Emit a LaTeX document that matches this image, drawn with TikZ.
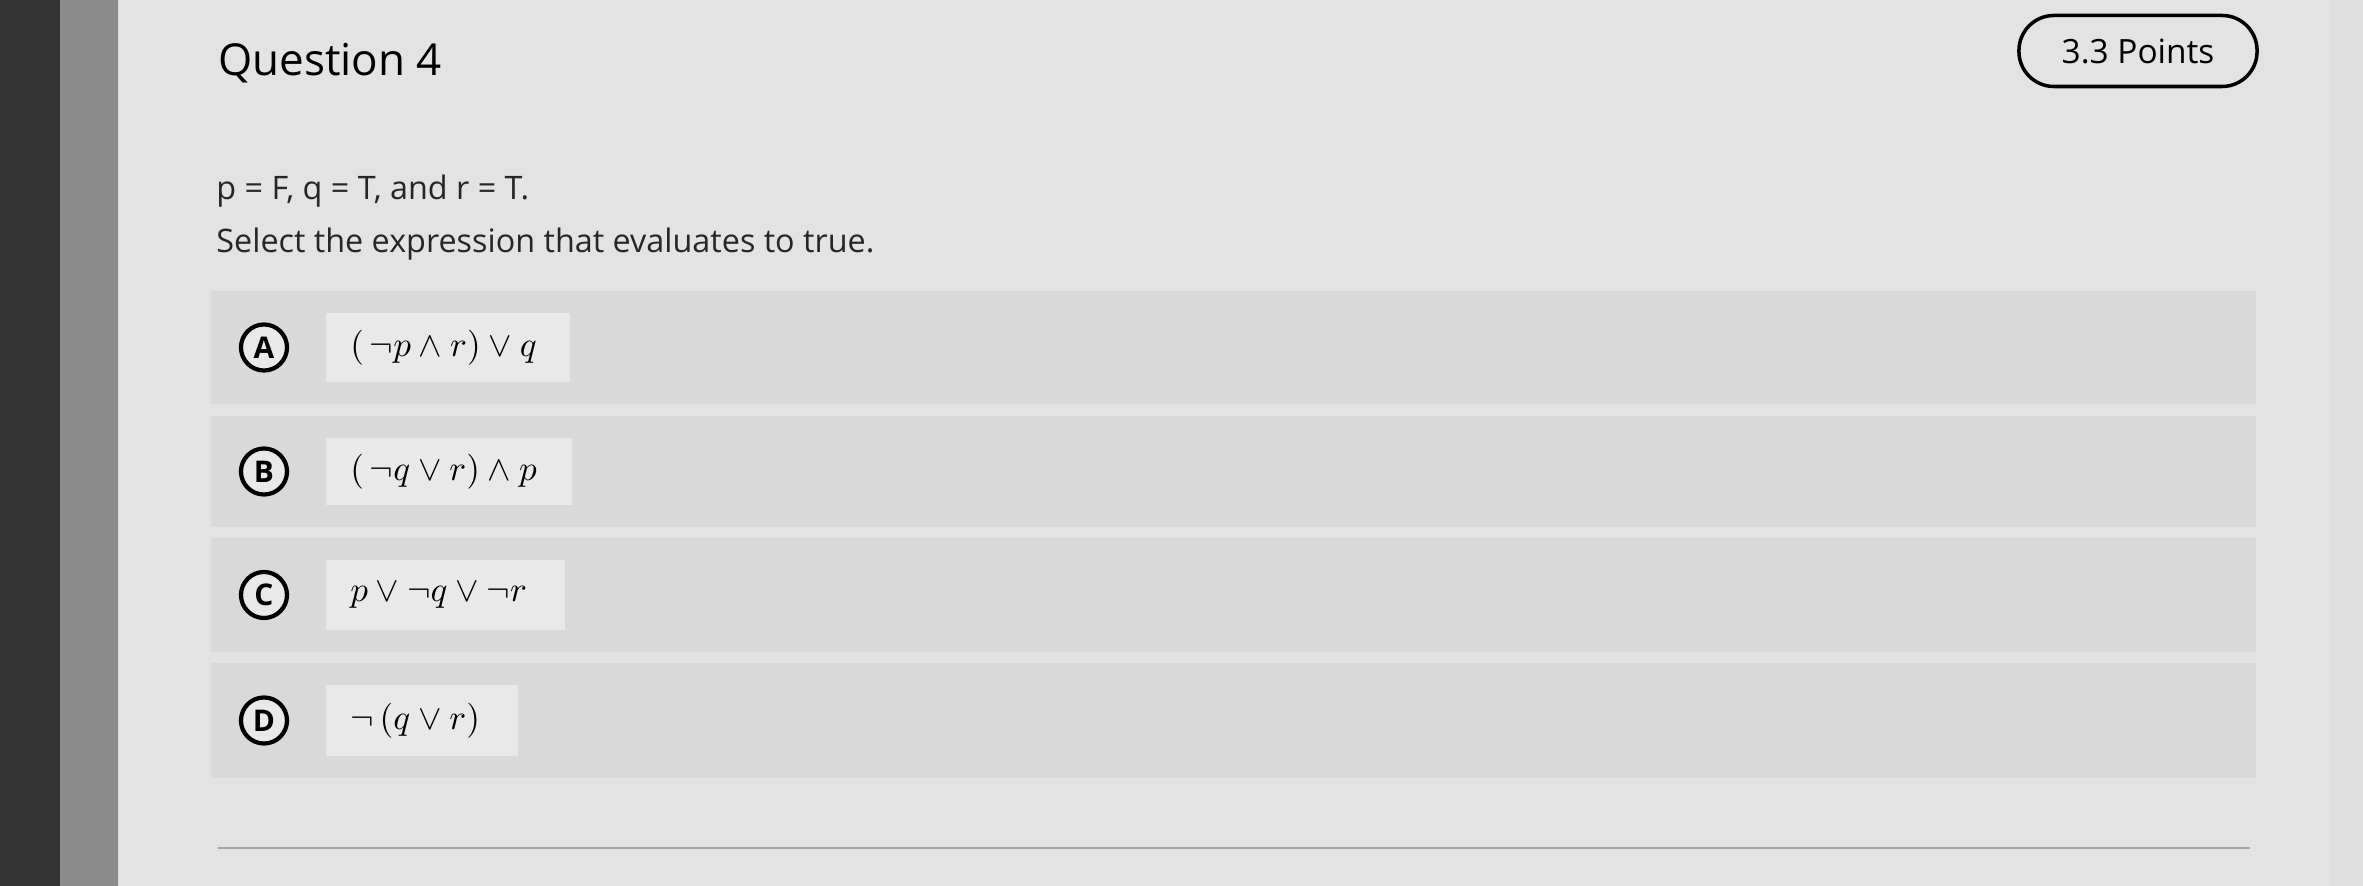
\documentclass[tikz,border=0pt]{standalone}
\usepackage{fontspec}
\setmainfont{Open Sans}
\begin{document}
\begin{tikzpicture}[x=0.01cm,y=-0.01cm,
  letter/.style={circle,draw=black,line width=1.2pt,fill=boxc,minimum size=0.46cm,inner sep=0pt,font=\fontsize{8.5}{10}\selectfont\bfseries},
  expr/.style={anchor=west,font=\fontsize{10}{12}\selectfont},
  body/.style={anchor=west,font=\fontsize{9.2}{11}\selectfont,text=black!85}]
\definecolor{bgc}{HTML}{E3E3E3}
\definecolor{rowc}{HTML}{D9D9D9}
\definecolor{boxc}{HTML}{E9E9E9}
\useasboundingbox (0,0) rectangle (2363,886);
\fill[bgc] (0,0) rectangle (2363,886);
\fill[black!80] (0,0) rectangle (60,886);
\fill[black!45] (60,0) rectangle (118,886);
\fill[black!12] (2330,0) rectangle (2363,886);
\node[anchor=west,font=\fontsize{12.5}{14}\selectfont] (title) at (206,63) {Question 4};
\node[draw=black,line width=1pt,rounded corners=0.35cm,minimum width=2.38cm,minimum height=0.71cm,font=\fontsize{9.5}{11}\selectfont] (pts) at (2138,51) {3.3 Points};
\node[body] (given) at (204,191) {p = F, q = T, and r = T.};
\node[body] (select) at (204,244) {Select the expression that evaluates to true.};
\foreach \n/\ya/\yb/\bw/\e in {A/291/404/570/{$(\,\neg p\wedge r)\vee q$},B/416/527/572/{$(\,\neg q\vee r)\wedge p$},C/538/652/565/{$p\vee\neg q\vee\neg r$},D/663/778/518/{$\neg\,(q\vee r)$}}{
  \fill[rowc] (211,\ya) rectangle (2256,\yb);
  \fill[boxc] (326,\ya+22) rectangle (\bw,\yb-22);
  \node[letter] (c\n) at (264,{(\ya+\yb)/2}) {\n};
  \node[expr] (e\n) at (338,{(\ya+\yb)/2}) {\e};
}
\draw[black!35,line width=0.8pt] (218,848) -- (2250,848);
\end{tikzpicture}
\end{document}
